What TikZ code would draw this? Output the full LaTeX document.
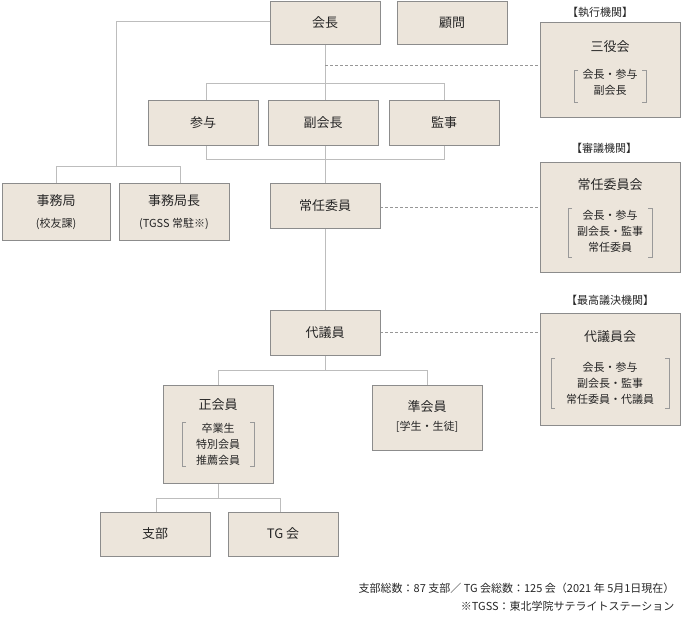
\documentclass[tikz,border=0pt]{standalone}
\usepackage{fontspec}
\setmainfont{Noto Sans CJK JP}
\begin{document}
\begin{tikzpicture}[x=1pt,y=-1pt,
  box/.style={draw=boxline,fill=boxfill,line width=0.9pt,inner sep=0pt},
  ln/.style={draw=lin,line width=1pt},
  dl/.style={draw=lin!80!black,dashed,dash pattern=on 3pt off 2pt,line width=0.6pt},
  br/.style={draw=gray!80,line width=0.6pt},
  t/.style={font=\fontsize{13}{15}\selectfont,text=black!85},
  s/.style={font=\fontsize{11}{16}\selectfont,text=black!85,align=center},
  lab/.style={font=\fontsize{11}{13}\selectfont,text=black!85}]
\definecolor{boxfill}{HTML}{ECE5DB}
\definecolor{boxline}{HTML}{8C8C8C}
\definecolor{lin}{HTML}{BDBDBD}
\useasboundingbox (0,0) rectangle (682,617);
\newcommand{\bx}[5]{\path[box] (#2,#3) rectangle (#4,#5); \coordinate (#1) at ({(#2+#4)/2},{(#3+#5)/2});}
% connectors first
\coordinate (c1) at (325,22);
\draw[ln] (270,22) -- (116,22) -- (116,167);
\draw[ln] (56,183) -- (56,167) -- (180,167) -- (180,183);
\draw[ln] (325,44) -- (325,100);
\draw[ln] (206,100) -- (206,84) -- (444,84) -- (444,100);
\draw[ln] (206,145) -- (206,160) -- (444,160) -- (444,145);
\draw[ln] (325,145) -- (325,183);
\draw[ln] (325,228) -- (325,310);
\draw[ln] (325,355) -- (325,370);
\draw[ln] (218,385) -- (218,370) -- (427,370) -- (427,385);
\draw[ln] (218,483) -- (218,498);
\draw[ln] (156,512) -- (156,498) -- (280,498) -- (280,512);
\draw[dl] (325,65) -- (540,65);
\draw[dl] (380,207) -- (540,207);
\draw[dl] (380,332) -- (540,332);
% boxes
\bx{kaicho}{270}{1}{380}{44}
\node[t] (n1) at (kaicho) {会長};
\bx{komon}{397}{1}{507}{44}
\node[t] (n2) at (komon) {顧問};
\bx{sanyaku}{540}{22}{680}{117}
\node[t] at (610,47) {三役会};
\node[s] at (610,82) {会長・参与\\副会長};
\draw[br] (578,70)--(574,70)--(574,102)--(578,102);
\draw[br] (642,70)--(646,70)--(646,102)--(642,102);
\node[lab] at (600,12) {【執行機関】};
\bx{sanyo}{148}{100}{258}{145}
\node[t] at (sanyo) {参与};
\bx{fuku}{268}{100}{378}{145}
\node[t] at (fuku) {副会長};
\bx{kanji}{389}{100}{499}{145}
\node[t] at (kanji) {監事};
\bx{jimu}{2}{183}{110}{240}
\node[t] at (56,201) {事務局};
\node[s] at (56,224) {(校友課)};
\bx{jimucho}{119}{183}{229}{240}
\node[t] at (174,201) {事務局長};
\node[s] at (174,224) {(TGSS 常駐※)};
\bx{jonin}{270}{183}{380}{228}
\node[t] at (jonin) {常任委員};
\bx{joninkai}{540}{162}{680}{272}
\node[t] at (610,185) {常任委員会};
\node[s] at (610,231) {会長・参与\\副会長・監事\\常任委員};
\draw[br] (572,208)--(568,208)--(568,257)--(572,257);
\draw[br] (648,208)--(652,208)--(652,257)--(648,257);
\node[lab] at (604,148) {【審議機関】};
\bx{daigi}{270}{310}{380}{355}
\node[t] at (daigi) {代議員};
\bx{daigikai}{540}{313}{680}{425}
\node[t] at (610,337) {代議員会};
\node[s] at (610,383) {会長・参与\\副会長・監事\\常任委員・代議員};
\draw[br] (555,358)--(551,358)--(551,408)--(555,408);
\draw[br] (665,358)--(669,358)--(669,408)--(665,408);
\node[lab] at (610,300) {【最高議決機関】};
\bx{sei}{163}{385}{273}{483}
\node[t] at (218,405) {正会員};
\node[s] at (218,444) {卒業生\\特別会員\\推薦会員};
\draw[br] (186,422)--(182,422)--(182,466)--(186,466);
\draw[br] (250,422)--(254,422)--(254,466)--(250,466);
\bx{jun}{372}{385}{482}{450}
\node[t] at (427,407) {準会員};
\node[s] at (427,427) {[学生・生徒]};
\bx{shibu}{100}{512}{210}{556}
\node[t] at (shibu) {支部};
\bx{tg}{228}{512}{338}{556}
\node[t] at (tg) {TG 会};
\node[lab,anchor=east] at (678,588) {支部総数：87 支部／ TG 会総数：125 会（2021 年 5月1日現在）};
\node[lab,anchor=east] at (678,606) {※TGSS：東北学院サテライトステーション};
\end{tikzpicture}
\end{document}
